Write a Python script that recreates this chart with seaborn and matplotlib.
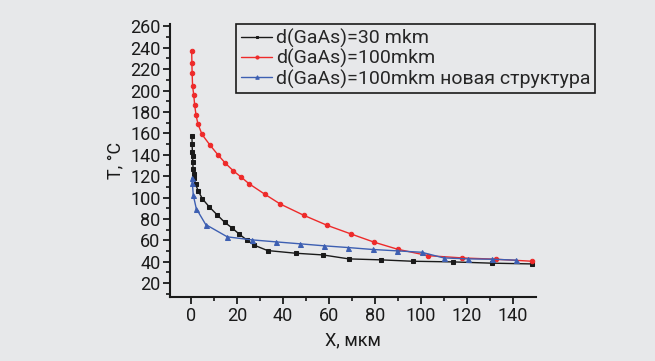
import matplotlib
matplotlib.use('Agg')
import matplotlib.pyplot as plt
import seaborn as sns

# values
x_30 = [0.4, 0.5, 0.6, 0.7, 0.8, 0.9, 1.2, 1.4, 2.0, 3.2, 5.0, 8.0, 11.4, 14.6, 18.0, 21.0,
        24.2, 27.5, 33.3, 45.5, 57.4, 68.7, 82.6, 96.4, 113.8, 130.9, 148.4]
t_30 = [157.5, 150.4, 142.6, 138.5, 133.3, 127, 122, 118.7, 112.4, 106, 98.7, 91.2, 83.8, 77,
        71.4, 65.8, 60.5, 55.5, 50.5, 48, 46.4, 42.7, 41.8, 40.5, 39.9, 38.7, 38.0]

x_100 = [0.3, 0.4, 0.5, 0.7, 1.2, 1.6, 2.2, 3.0, 4.8, 8.1, 11.7, 15.0, 18.4, 21.9, 25.2, 32.2,
         38.8, 49.0, 59.3, 69.6, 79.7, 89.9, 103.2, 118.0, 132.5, 148.4]
t_100 = [237, 226, 216, 204, 196, 186.5, 177, 169, 159, 149.5, 140, 132, 125, 119, 113, 103,
         94, 83.5, 74, 66, 58.3, 51.7, 45.7, 43.6, 42.4, 40.5]

x_new = [0.3, 0.6, 1.0, 2.3, 6.4, 15.8, 26.4, 37.0, 47.4, 58.0, 68.4, 79.0, 89.7, 100.3,
         110.0, 120.6, 131.0, 141.4]
t_new = [118, 113.6, 102.2, 89.7, 74.8, 63.3, 60.5, 58.6, 56.8, 54.9, 53.3, 51.5, 50.2, 48.9,
         43.6, 42.7, 42.4, 41.5]

labels = ['d(GaAs)=30 mkm', 'd(GaAs)=100mkm', 'd(GaAs)=100mkm новая структура']

bg = '#e7e8ea'
sns.set_style('ticks')
plt.rcParams['font.family'] = ['Roboto', 'DejaVu Sans']

fig = plt.figure(figsize=(6.55, 3.61), dpi=100, facecolor=bg)
ax = fig.add_axes([0.26, 0.177, 0.558, 0.756])
ax.set_facecolor(bg)

sns.lineplot(x=x_30, y=t_30, ax=ax, color='#1a1a1a', marker='s', markersize=3,
             mec='#1a1a1a', lw=1, label=labels[0])
sns.lineplot(x=x_100, y=t_100, ax=ax, color='#ee2a2a', marker='o', markersize=3.2,
             mec='#ee2a2a', lw=1, label=labels[1])
sns.lineplot(x=x_new, y=t_new, ax=ax, color='#3d5fb2', marker='^', markersize=3.6,
             mec='#3d5fb2', lw=1, label=labels[2])

ax.set_xlim(-9, 150)
ax.set_ylim(7, 262)
ax.set_xticks(range(0, 141, 20))
ax.set_xticks(range(10, 150, 20), minor=True)
ax.set_yticks(range(20, 261, 20))
ax.set_yticks(range(10, 261, 20), minor=True)
ax.tick_params(which='major', direction='out', length=5, width=1.3, labelsize=13, colors='#1a1a1a', pad=2)
ax.tick_params(which='minor', direction='out', length=3, width=1.3)
for s in ['left', 'bottom']:
    ax.spines[s].set_linewidth(1.5)
    ax.spines[s].set_color('#1a1a1a')
sns.despine(ax=ax)

ax.set_xlabel('X, мкм', fontsize=13, color='#1a1a1a', labelpad=5)
ax.set_ylabel('T, °C', fontsize=13, color='#1a1a1a')

leg = ax.legend(loc='upper left', bbox_to_anchor=(0.18, 1.0), fontsize=14, frameon=True,
                fancybox=False, handlelength=1.6, handletextpad=0.2, labelspacing=0.05,
                borderpad=0.25, borderaxespad=0, facecolor=bg, markerscale=0.7)
leg.get_frame().set_edgecolor('#1a1a1a')
leg.get_frame().set_linewidth(1.2)
leg.get_frame().set_alpha(None)

fig.savefig('out.png', dpi=100, facecolor=bg)
